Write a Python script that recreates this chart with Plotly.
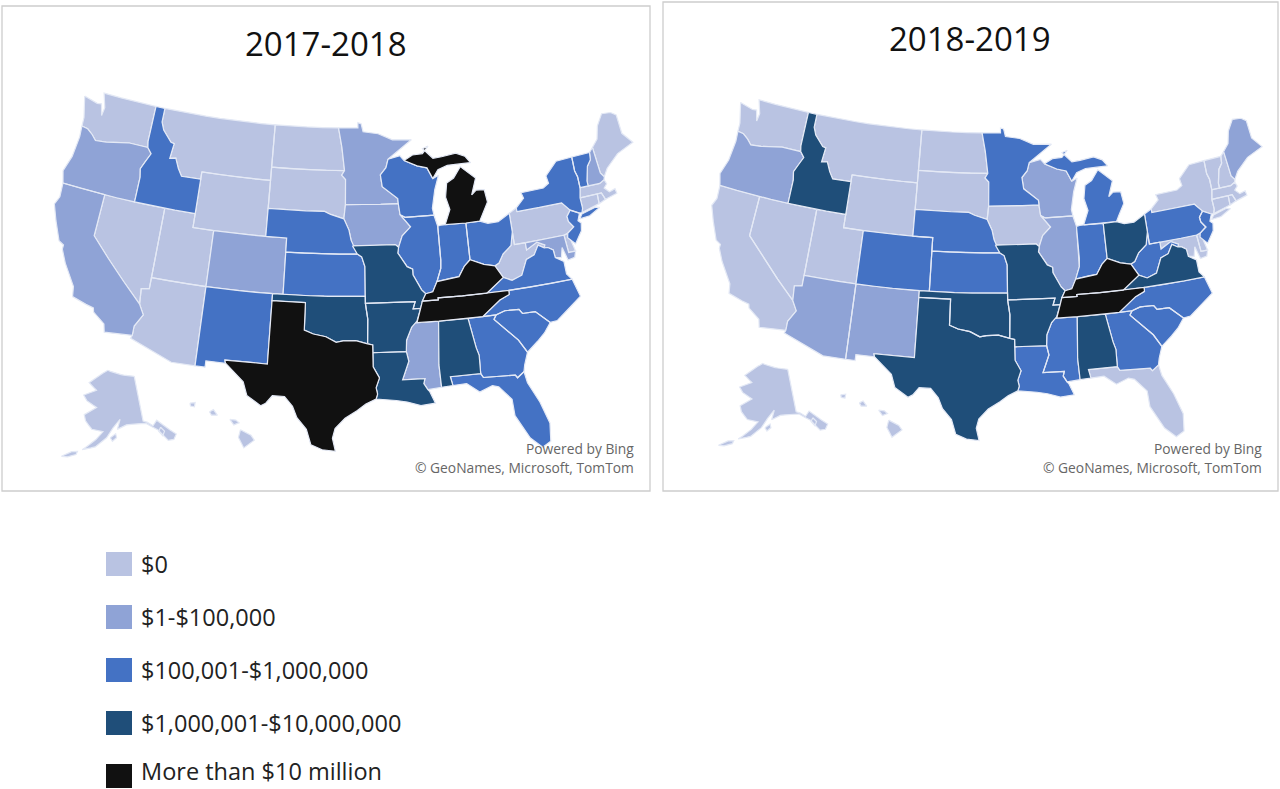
import math
import plotly.graph_objects as go

# State outlines (lon, lat), generalised by hand because the basemap file cannot be fetched offline.
OUTLINES = {
"WA":[[(-124.7,48.4),(-123.2,48.15),(-122.75,48.2),(-122.4,47.4),(-122.3,48.0),(-122.8,49.0),(-117.03,49.0),(-117.04,46.42),(-116.92,45.99),(-118.98,46.0),(-119.6,45.92),(-121.2,45.65),(-122.3,45.55),(-122.8,45.9),(-123.4,46.2),(-124.05,46.27),(-124.1,46.9)]],
"OR":[[(-124.05,46.27),(-123.4,46.2),(-122.8,45.9),(-122.3,45.55),(-121.2,45.65),(-119.6,45.92),(-118.98,46.0),(-116.92,45.99),(-116.46,45.6),(-116.9,44.9),(-117.2,44.4),(-117.03,43.8),(-117.03,42.0),(-124.2,42.0),(-124.55,42.84),(-124.1,44.0),(-123.95,45.5)]],
"CA":[[(-124.2,42),(-120,42),(-120,39),(-114.63,35.0),(-114.13,34.3),(-114.72,33.4),(-114.72,32.72),(-117.12,32.53),(-117.3,33.1),(-118.4,33.75),(-118.5,34.03),(-119.2,34.15),(-120.5,34.45),(-120.65,35.15),(-121.9,36.6),(-122.5,37.5),(-122.5,37.8),(-123,38),(-123.8,39.3),(-124.4,40.4),(-124.1,41)]],
"NV":[[(-120,42),(-114.04,42),(-114.04,36.2),(-114.75,36.1),(-114.63,35),(-120,39)]],
"ID":[[(-117.03,49),(-116.05,49),(-116.05,48),(-115.7,47.45),(-114.7,46.7),(-114.35,46.65),(-114.5,45.55),(-113.9,45.65),(-113.45,44.95),(-113,44.45),(-111.05,44.48),(-111.05,42),(-117.03,42),(-117.03,43.8),(-117.2,44.4),(-116.9,44.9),(-116.46,45.6),(-116.92,45.99),(-117.04,46.42)]],
"MT":[[(-116.05,49),(-104.05,49),(-104.05,45),(-111.05,45),(-111.05,44.48),(-113,44.45),(-113.45,44.95),(-113.9,45.65),(-114.5,45.55),(-114.35,46.65),(-114.7,46.7),(-115.7,47.45),(-116.05,48)]],
"WY":[[(-111.05,45),(-104.05,45),(-104.05,41),(-111.05,41)]],
"UT":[[(-114.04,42),(-111.05,42),(-111.05,41),(-109.05,41),(-109.05,37),(-114.04,37)]],
"CO":[[(-109.05,41),(-102.05,41),(-102.05,37),(-109.05,37)]],
"AZ":[[(-114.04,37),(-109.05,37),(-109.05,31.33),(-111.07,31.33),(-114.81,32.5),(-114.72,32.72),(-114.72,33.4),(-114.13,34.3),(-114.63,35),(-114.75,36.1),(-114.04,36.2)]],
"NM":[[(-109.05,37),(-103,37),(-103,32),(-106.62,32),(-106.53,31.78),(-108.2,31.78),(-108.2,31.33),(-109.05,31.33)]],
"ND":[[(-104.05,49),(-97.23,49),(-96.85,47.6),(-96.56,45.94),(-104.05,45.94)]],
"SD":[[(-104.05,45.94),(-96.56,45.94),(-96.85,45.6),(-96.45,45.3),(-96.45,43.5),(-96.6,42.5),(-97.9,42.8),(-98.5,43.0),(-104.05,43)]],
"NE":[[(-104.05,43),(-98.5,43),(-97.9,42.8),(-96.6,42.5),(-96.1,41.7),(-95.9,41),(-95.31,40),(-102.05,40),(-102.05,41),(-104.05,41)]],
"KS":[[(-102.05,40),(-95.31,40),(-94.9,39.8),(-94.61,39.1),(-94.62,37),(-102.05,37)]],
"OK":[[(-103,37),(-94.62,37),(-94.62,36.5),(-94.43,35.4),(-94.48,33.64),(-95.5,33.88),(-96.6,33.85),(-97.2,33.75),(-98.1,34.13),(-99.2,34.3),(-100,34.56),(-100,36.5),(-103,36.5)]],
"TX":[[(-106.62,32),(-103,32),(-103,36.5),(-100,36.5),(-100,34.56),(-99.2,34.3),(-98.1,34.13),(-97.2,33.75),(-96.6,33.85),(-95.5,33.88),(-94.48,33.64),(-94.04,33.55),(-94.04,33.0),(-94.04,32),(-93.53,31.2),(-93.83,30.5),(-93.72,30.05),(-93.85,29.7),(-94.7,29.35),(-95.4,28.9),(-96.4,28.35),(-97.2,27.6),(-97.4,26.9),(-97.15,25.96),(-98.2,26.06),(-99.1,26.4),(-99.5,27.5),(-100.3,28.3),(-100.7,29.1),(-101.4,29.77),(-102.4,29.77),(-102.9,29.2),(-103.3,29.0),(-104.5,29.65),(-104.9,30.6),(-106.0,31.4),(-106.53,31.78)]],
"MN":[[(-97.23,49),(-95.15,49),(-95.15,49.38),(-94.8,49.3),(-94.6,48.72),(-93.0,48.55),(-91.5,48.07),(-89.5,48.0),(-92.05,46.7),(-92.3,46.1),(-92.9,45.6),(-92.75,44.75),(-91.25,43.85),(-91.22,43.5),(-96.45,43.5),(-96.45,45.3),(-96.85,45.6),(-96.56,45.94),(-96.85,47.6)]],
"IA":[[(-96.45,43.5),(-91.22,43.5),(-91.1,42.7),(-90.15,41.8),(-91.0,41.2),(-91.4,40.4),(-91.7,40.6),(-95.77,40.58),(-95.9,41),(-96.1,41.7),(-96.6,42.5)]],
"MO":[[(-95.77,40.58),(-91.7,40.6),(-91.4,40.4),(-91.5,40.0),(-90.7,39.0),(-90.2,38.8),(-90.2,38.4),(-89.5,37.3),(-89.15,37.0),(-89.5,36.5),(-89.7,36.0),(-90.37,36.0),(-90.15,36.5),(-94.62,36.5),(-94.62,37),(-94.61,39.1),(-94.9,39.8),(-95.31,40)]],
"AR":[[(-94.62,36.5),(-90.15,36.5),(-90.37,36),(-89.7,36),(-90.1,35.1),(-90.6,34.7),(-91.1,33.8),(-91.17,33.0),(-94.04,33.0),(-94.04,33.55),(-94.48,33.64),(-94.43,35.4)]],
"LA":[[(-94.04,33),(-91.17,33),(-91.0,32.3),(-91.6,31.0),(-89.73,31.0),(-89.85,30.65),(-89.55,30.2),(-89.4,30.05),(-89.0,29.2),(-90.2,29.1),(-91.3,29.4),(-92.2,29.55),(-93.85,29.7),(-93.72,30.05),(-93.83,30.5),(-93.53,31.2),(-94.04,32)]],
"WI":[[(-92.05,46.7),(-90.8,46.9),(-90.4,46.55),(-89.1,46.1),(-88.1,45.9),(-87.8,45.35),(-87.6,45.1),(-87.0,45.3),(-87.5,44.3),(-87.9,43),(-87.8,42.5),(-90.64,42.5),(-91.1,42.7),(-91.22,43.5),(-91.25,43.85),(-92.75,44.75),(-92.9,45.6),(-92.3,46.1)]],
"IL":[[(-90.64,42.5),(-87.8,42.5),(-87.53,41.7),(-87.53,39.3),(-87.6,38.7),(-88.05,37.8),(-88.5,37.1),(-89.15,37),(-89.5,37.3),(-90.2,38.4),(-90.2,38.8),(-90.7,39),(-91.5,40),(-91.4,40.4),(-91,41.2),(-90.15,41.8),(-91.1,42.7)]],
"IN":[[(-87.53,41.7),(-87.2,41.76),(-86.8,41.76),(-84.8,41.72),(-84.82,39.1),(-85.4,38.7),(-86,38),(-86.8,37.95),(-88.05,37.8),(-87.6,38.7),(-87.53,39.3)]],
"MI":[[(-86.8,41.76),(-84.8,41.72),(-83.45,41.73),(-83.1,42.2),(-82.45,43),(-82.6,43.9),(-83.4,43.95),(-83.9,43.65),(-83.3,44.8),(-84.7,45.75),(-85.5,45.0),(-86.25,44.7),(-86.5,43.7),(-86.2,42.8)],
      [(-90.4,46.55),(-89.1,46.1),(-88.1,45.9),(-87.8,45.35),(-87.6,45.1),(-87,45.7),(-86,45.95),(-84.75,45.95),(-83.6,45.95),(-84.1,46.45),(-85,46.75),(-86.5,46.6),(-87.4,46.55),(-88.4,47.3),(-87.8,47.45),(-88.45,46.95),(-89.5,46.9)]],
"OH":[[(-84.8,41.72),(-83.45,41.73),(-82.7,41.5),(-81.7,41.5),(-80.52,41.98),(-80.52,40.64),(-80.85,39.7),(-81.7,39.2),(-82.2,38.6),(-82.6,38.45),(-83.6,38.65),(-84.82,39.1)]],
"KY":[[(-89.15,37),(-88.5,37.1),(-88.05,37.8),(-86.8,37.95),(-86,38),(-85.4,38.7),(-84.82,39.1),(-83.6,38.65),(-82.6,38.45),(-82.0,37.55),(-83.67,36.6),(-88.07,36.65),(-88.07,36.5),(-89.5,36.5)]],
"TN":[[(-89.7,36),(-89.5,36.5),(-88.07,36.5),(-88.07,36.65),(-83.67,36.6),(-81.68,36.59),(-81.7,36.3),(-82.6,36.0),(-84.3,35.0),(-90.1,35.0)]],
"MS":[[(-90.3,35),(-88.2,35),(-88.47,31.9),(-88.4,30.3),(-89.55,30.2),(-89.85,30.65),(-89.73,31),(-91.6,31),(-91,32.3),(-91.17,33),(-91.1,33.8),(-90.6,34.7)]],
"AL":[[(-88.2,35),(-85.6,35),(-85.18,32.87),(-85,32.3),(-85.05,31.0),(-87.6,31),(-87.45,30.35),(-88.4,30.3),(-88.47,31.9)]],
"GA":[[(-85.6,35),(-83.1,35),(-83.35,34.7),(-82.55,33.95),(-81.5,33.0),(-80.9,32.05),(-81.3,31.2),(-81.45,30.72),(-82.05,30.36),(-82.2,30.57),(-84.86,30.7),(-85.05,31),(-85,32.3),(-85.18,32.87)]],
"FL":[[(-87.6,31),(-85.05,31),(-84.86,30.7),(-82.2,30.57),(-82.05,30.36),(-81.45,30.72),(-81.3,29.9),(-80.55,28.4),(-80.03,26.8),(-80.2,25.5),(-80.9,25.15),(-81.75,25.95),(-82.7,27.7),(-82.75,28.9),(-83.7,29.9),(-84.2,30.05),(-85.3,29.7),(-86.3,30.4),(-87.45,30.35)]],
"SC":[[(-83.35,34.7),(-83.1,35),(-82.3,35.2),(-81.05,35.15),(-80.8,34.82),(-79.67,34.8),(-78.55,33.86),(-79.2,33.2),(-79.9,32.7),(-80.9,32.05),(-81.5,33),(-82.55,33.95)]],
"NC":[[(-84.3,35),(-82.6,36),(-81.7,36.3),(-81.68,36.59),(-75.9,36.55),(-75.5,35.25),(-76.5,34.7),(-77.9,33.9),(-78.55,33.86),(-79.67,34.8),(-80.8,34.82),(-81.05,35.15),(-82.3,35.2),(-83.1,35)]],
"VA":[[(-83.67,36.6),(-82.0,37.55),(-81.25,37.25),(-80.3,37.5),(-79.65,38.55),(-78.87,38.77),(-78.35,39.4),(-77.83,39.13),(-77.5,39.1),(-77.05,38.85),(-77.0,38.3),(-76.3,37.9),(-76.3,37.0),(-75.9,36.55),(-81.68,36.59)]],
"WV":[[(-82.6,38.45),(-82.2,38.6),(-81.7,39.2),(-80.85,39.7),(-80.52,40.64),(-80.52,39.72),(-79.48,39.72),(-79.48,39.2),(-78.4,39.62),(-77.72,39.32),(-77.83,39.13),(-78.35,39.4),(-78.87,38.77),(-79.65,38.55),(-80.3,37.5),(-81.25,37.25),(-82.0,37.55)]],
"PA":[[(-80.52,41.98),(-79.76,42.27),(-79.76,42),(-75.35,42),(-74.7,41.36),(-75.13,40.97),(-75.1,40.6),(-74.72,40.15),(-75.4,39.8),(-75.79,39.72),(-80.52,39.72)]],
"NY":[[(-79.76,42),(-79.76,42.27),(-78.9,42.85),(-79.05,43.27),(-76.8,43.3),(-76.2,43.55),(-76.3,44.1),(-75,44.97),(-73.35,45.01),(-73.4,44),(-73.25,43.55),(-73.27,42.75),(-73.5,42.05),(-73.5,41.3),(-73.65,41.0),(-73.9,41),(-74.7,41.36),(-75.35,42)],
      [(-74.0,40.6),(-73.7,40.9),(-72.3,41.15),(-71.9,41.05),(-73.0,40.65)]],
"NJ":[[(-74.7,41.36),(-73.9,41),(-74.2,40.5),(-73.95,40.3),(-74.1,39.75),(-74.9,38.95),(-75.5,39.5),(-75.4,39.8),(-74.72,40.15),(-75.1,40.6),(-75.13,40.97)]],
"DE":[[(-75.79,39.72),(-75.4,39.8),(-75.05,38.45),(-75.7,38.46)]],
"MD":[[(-79.48,39.72),(-75.79,39.72),(-75.7,38.46),(-75.05,38.45),(-75.25,38.03),(-75.9,37.95),(-76.2,38.9),(-76.45,38.2),(-77,38.3),(-77.05,38.85),(-77.5,39.1),(-77.83,39.13),(-77.72,39.32),(-78.4,39.62),(-79.48,39.2)]],
"CT":[[(-73.5,42.05),(-71.8,42.02),(-71.85,41.32),(-73.65,41.0),(-73.5,41.3)]],
"RI":[[(-71.8,42.02),(-71.38,42.02),(-71.15,41.5),(-71.85,41.32)]],
"MA":[[(-73.5,42.05),(-73.27,42.75),(-71.3,42.7),(-70.8,42.87),(-70.65,42.55),(-71.0,42.3),(-70.6,41.95),(-70.0,42.05),(-69.95,41.7),(-71.15,41.5),(-71.38,42.02),(-71.8,42.02)]],
"VT":[[(-73.35,45.01),(-71.5,45.01),(-71.6,44.5),(-72.05,44.1),(-72.45,43.1),(-72.46,42.73),(-73.27,42.75),(-73.25,43.55),(-73.4,44)]],
"NH":[[(-71.5,45.01),(-71.08,45.3),(-70.98,43.4),(-70.7,43.07),(-70.8,42.87),(-71.3,42.7),(-72.46,42.73),(-72.45,43.1),(-72.05,44.1),(-71.6,44.5)]],
"ME":[[(-71.08,45.3),(-70.4,45.8),(-70,46.7),(-69.23,47.46),(-68.3,47.36),(-67.8,47.07),(-67.8,45.7),(-67,44.85),(-68.8,44.4),(-70.2,43.6),(-70.7,43.07),(-70.98,43.4)]],
"AK":[[(-141,69.6),(-141,60.3),(-139.5,59.9),(-137.5,58.9),(-135.5,59.8),(-133.5,58.4),(-130,55.9),(-131.5,55),(-133.5,55.2),(-136,57.8),(-140,59.7),(-144,60),(-148,60),(-151.8,59.2),(-150.5,61.2),(-153.5,59.5),(-156,57.5),(-160,55.5),(-164.5,54.6),(-160,57),(-157.5,58.7),(-162,59),(-165,60.5),(-166,61.7),(-161,63.5),(-166,64.6),(-168,65.6),(-162,67),(-166.5,68.3),(-161,70.3),(-156.5,71.3),(-150,70.5)],
      [(-154.6,57.5),(-152.5,58.3),(-152.2,57.5),(-153.8,56.8)],
      [(-171,52.4),(-168,53.8),(-166,54.1),(-166.3,53.4),(-169,52.6)],
      [(-134.8,58.2),(-133.8,57.2),(-134.9,56.4),(-135.9,57.5)]],
"HI":[[(-155.9,20.25),(-155.1,19.85),(-154.85,19.5),(-155.65,18.95),(-156.05,19.7)],[(-156.7,21.0),(-156.25,20.95),(-156.0,20.75),(-156.4,20.6)],[(-158.25,21.55),(-157.95,21.7),(-157.65,21.3),(-158.1,21.3)],[(-159.75,22.15),(-159.35,22.2),(-159.4,21.9),(-159.7,21.95)]],
}

CATEGORIES = ["$0","$1-$100,000","$100,001-$1,000,000","$1,000,001-$10,000,000","More than $10 million"]
COLORS = ["#B9C3E2","#8FA3D6","#4472C4","#1F4E79","#111111"]

PANEL_2017 = [
 ["WA","MT","ND","SD","WY","NV","UT","AZ","AK","HI","PA","WV","ME","MA","CT","RI","DE"],
 ["OR","CA","CO","MN","IA","MS","NH","MD"],
 ["ID","WI","IL","IN","OH","NY","VT","NJ","VA","NC","SC","GA","FL","NE","KS","NM"],
 ["MO","AR","OK","LA","AL"],
 ["MI","KY","TN","TX"],
]
PANEL_2018 = [
 ["WA","MT","ND","SD","WY","NV","UT","CA","AK","HI","IA","NY","VT","NH","MA","CT","RI","FL","MD","DE"],
 ["OR","AZ","NM","WI","IL","ME"],
 ["MN","MI","NE","CO","KS","IN","PA","NJ","WV","NC","SC","GA","LA","MS"],
 ["ID","OH","VA","MO","OK","AR","TX","AL"],
 ["KY","TN"],
]
TITLES = ["2017-2018","2018-2019"]

def albers(lon, lat, lon0, lat0, p1, p2):
    r = math.radians
    n = (math.sin(r(p1))+math.sin(r(p2)))/2
    c = math.cos(r(p1))**2 + 2*n*math.sin(r(p1))
    rho = lambda phi: math.sqrt(c-2*n*math.sin(r(phi)))/n
    t = n*r(lon-lon0)
    return rho(lat)*math.sin(t), rho(lat0)-rho(lat)*math.cos(t)

def project(state, lon, lat):
    if state == "AK":
        x,y = albers(lon,lat,-154,58.5,55,65); ax,ay = albers(-141,60.3,-154,58.5,55,65)
        return -0.258+(x-ax)*0.35, -0.164+(y-ay)*0.35
    if state == "HI":
        x,y = albers(lon,lat,-157,19.9,8,18); ax,ay = albers(-155.5,19.5,-157,19.9,8,18)
        return -0.130+(x-ax), -0.188+(y-ay)
    return albers(lon,lat,-96,37.5,29.5,45.5)

def ring_xy(state, ring):
    xs,ys = [],[]
    for (a,b),(c,d) in zip(ring, ring[1:]+ring[:1]):
        steps = max(1,int(abs(c-a)//1.5))      # follow the curve of long parallels
        for k in range(steps):
            x,y = project(state, a+(c-a)*k/steps, b+(d-b)*k/steps)
            xs.append(x); ys.append(y)
    xs.append(xs[0]); ys.append(ys[0])
    return xs,ys

W,H = 1280,789
px = lambda x: x/W
py = lambda y: 1-y/H

# panel frame in pixels, then pixel position of projected (0, 0.2013) and pixels per unit
PANELS = [dict(box=(2,6,650,491),cx=350,cy=128,s=802,title_x=326,title_y=43,attr_x=636),
          dict(box=(663,2,1278,491),cx=993,cy=133,s=763,title_x=970,title_y=39,attr_x=1264)]

fig = go.Figure()
layout_axes = {}
for idx,(panel,cfg) in enumerate(zip([PANEL_2017,PANEL_2018],PANELS)):
    sfx = "" if idx==0 else str(idx+1)
    for i,states in enumerate(panel):
        X,Y = [],[]
        for st in states:
            for ring in OUTLINES[st]:
                xs,ys = ring_xy(st,ring)
                X += xs+[None]; Y += ys+[None]
        fig.add_trace(go.Scatter(x=X,y=Y,mode="lines",fill="toself",fillcolor=COLORS[i],
                                 line=dict(color="#E4E9F5",width=1.2),name=CATEGORIES[i],
                                 hoverinfo="name",xaxis="x"+sfx,yaxis="y"+sfx))
    x0,y0,x1,y1 = cfg["box"]
    layout_axes["xaxis"+sfx] = dict(domain=[px(x0),px(x1)],anchor="y"+sfx,visible=False,fixedrange=True,
                                    range=[(x0-cfg["cx"])/cfg["s"],(x1-cfg["cx"])/cfg["s"]])
    layout_axes["yaxis"+sfx] = dict(domain=[py(y1),py(y0)],anchor="x"+sfx,visible=False,fixedrange=True,
                                    range=[0.2013-(y1-cfg["cy"])/cfg["s"],0.2013-(y0-cfg["cy"])/cfg["s"]])

shapes=[]; annots=[]
for cfg,t in zip(PANELS,TITLES):
    x0,y0,x1,y1 = cfg["box"]
    shapes.append(dict(type="rect",xref="paper",yref="paper",x0=px(x0),x1=px(x1),y0=py(y1),y1=py(y0),
                       line=dict(color="#CDCDCD",width=1.3)))
    annots.append(dict(text=t,x=px(cfg["title_x"]),y=py(cfg["title_y"]),xref="paper",yref="paper",showarrow=False,
                       xanchor="center",yanchor="middle",font=dict(size=33,color="#111111")))
    annots.append(dict(text="Powered by Bing",x=px(cfg["attr_x"]),y=py(448),xref="paper",yref="paper",showarrow=False,
                       xanchor="right",yanchor="middle",font=dict(size=13.8,color="#666666")))
    annots.append(dict(text="© GeoNames, Microsoft, TomTom",x=px(cfg["attr_x"]),y=py(468),xref="paper",yref="paper",showarrow=False,
                       xanchor="right",yanchor="middle",font=dict(size=13.8,color="#666666")))
for c,col,y in zip(CATEGORIES,COLORS,[564,617,670,723,776]):
    shapes.append(dict(type="rect",xref="paper",yref="paper",x0=px(106),x1=px(132),y0=py(y+12),y1=py(y-12),
                       fillcolor=col,line_width=0))
    last = y == 776    # keep the bottom entry's text box inside the page
    annots.append(dict(text=c,x=px(139),y=0 if last else py(y),xref="paper",yref="paper",showarrow=False,
                       xanchor="left",yanchor="bottom" if last else "middle",font=dict(size=23.5,color="#222222")))

fig.update_layout(width=W,height=H,margin=dict(l=0,r=0,t=0,b=0),paper_bgcolor="white",plot_bgcolor="rgba(0,0,0,0)",
                  showlegend=False,font=dict(family="Open Sans",color="#222222"),
                  shapes=shapes,annotations=annots,**layout_axes)
fig.write_html("out.html",config=dict(displayModeBar=False),
               post_script="document.body.style.margin='0';document.body.style.overflow='hidden';")
